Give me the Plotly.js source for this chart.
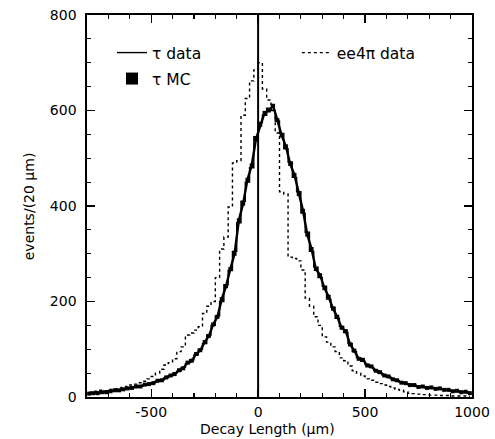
<!DOCTYPE html>
<html>
<head>
<meta charset="utf-8">
<script src="https://cdn.plot.ly/plotly-3.0.1.min.js"></script>
<style>html,body{margin:0;padding:0;background:#fff;}#chart{width:495px;height:439px;}</style>
</head>
<body>
<div id="chart"></div>
<script>
// Histogram binning (decay length, micrometres)
const BIN_START = -800;
const BIN_WIDTH = 20;

// tau data (solid histogram), 90 bins from -800 to 1000
const tauData = [
  8, 7, 9, 10, 11, 12, 13, 15, 17, 18,
  20, 21, 23, 25, 27, 30, 33, 36, 40, 44,
  50, 54, 62, 70, 78, 88, 100, 112, 130, 150,
  170, 200, 235, 265, 305, 365, 410, 450, 480, 545,
  575, 590, 605, 600, 578, 552, 520, 492, 460, 430,
  385, 345, 305, 272, 250, 232, 205, 188, 165, 148,
  135, 112, 95, 82, 75, 68, 62, 56, 50, 46,
  42, 38, 34, 31, 28, 26, 24, 22, 21, 20,
  19, 18, 17, 16, 14, 13, 12, 11, 10, 9
];

// tau Monte Carlo (black points)
const tauMC = [
  7, 8, 8, 10, 10, 12, 14, 14, 16, 18,
  19, 22, 22, 26, 27, 29, 34, 35, 41, 45,
  48, 56, 60, 72, 76, 90, 98, 115, 128, 152,
  168, 205, 232, 268, 300, 370, 405, 455, 485, 540,
  570, 595, 600, 610, 580, 548, 525, 488, 465, 425,
  390, 340, 310, 268, 255, 228, 210, 185, 168, 145,
  138, 110, 97, 80, 78, 66, 64, 55, 52, 45,
  43, 37, 35, 30, 29, 25, 25, 21, 22, 19,
  20, 17, 18, 15, 15, 12, 13, 10, 11, 8
];

// ee4pi data (dotted histogram)
const ee4piData = [
  10, 12, 12, 14, 13, 16, 17, 19, 20, 22,
  25, 27, 30, 33, 38, 43, 50, 58, 67, 72,
  80, 95, 105, 130, 134, 140, 147, 175, 190, 200,
  250, 310, 335, 398, 490, 495, 590, 625, 662, 685,
  700, 645, 622, 601, 553, 430, 425, 293, 290, 285,
  266, 207, 190, 168, 150, 126, 115, 105, 95, 82,
  76, 65, 55, 50, 44, 38, 35, 31, 28, 25,
  22, 19, 16, 14, 11, 8, 7, 6, 5, 5,
  4, 4, 3, 3, 3, 2, 2, 2, 2, 1
];

const xTickVals = [-500, 0, 500, 1000];
const xTickText = ['-500', '0', '500', '1000'];
const yTickVals = [0, 200, 400, 600, 800];
const yTickText = ['0', '200', '400', '600', '800'];

const centers = tauData.map((_, i) => BIN_START + BIN_WIDTH * (i + 0.5));

const FONT = 'DejaVu Sans, sans-serif';

const traces = [
  {
    x: centers, y: ee4piData, type: 'scatter', mode: 'lines',
    line: {shape: 'hvh', color: '#000', width: 1.4, dash: 'dot'},
    name: 'ee4π data', legend: 'legend2', hoverinfo: 'skip'
  },
  {
    x: centers, y: tauMC, type: 'scatter', mode: 'lines',
    line: {shape: 'linear', color: '#000', width: 2.4},
    showlegend: false, legend: 'legend3', hoverinfo: 'skip'
  },
  {
    x: centers, y: tauData, type: 'scatter', mode: 'lines',
    line: {shape: 'hvh', color: '#000', width: 1.4},
    name: 'τ data', legend: 'legend', hoverinfo: 'skip'
  },
  {
    x: centers, y: tauMC, type: 'scatter', mode: 'markers',
    marker: {symbol: 'square', size: 4, color: '#000'},
    name: 'τ MC', legend: 'legend3', hoverinfo: 'skip'
  }
];

const axisCommon = {
  showgrid: false, zeroline: false, showline: true, linecolor: '#000', linewidth: 1.6,
  mirror: 'ticks', ticks: 'inside', ticklen: 8, tickwidth: 1.3, tickcolor: '#000',
  tickfont: {family: FONT, size: 14, color: '#000'}
};

const legendFont = {family: FONT, size: 15.5, color: '#000'};

const layout = {
  width: 495, height: 439,
  margin: {l: 87, r: 23, t: 15, b: 42},
  paper_bgcolor: '#fff', plot_bgcolor: '#fff',
  font: {family: FONT, color: '#000'},
  xaxis: Object.assign({}, axisCommon, {
    range: [-800, 1000], tickmode: 'array', tickvals: xTickVals, ticktext: xTickText,
    minor: {dtick: 100, ticks: 'inside', ticklen: 4, tickwidth: 1.2, tickcolor: '#000'},
    ticklabelstandoff: 2
  }),
  yaxis: Object.assign({}, axisCommon, {
    range: [0, 800], tickmode: 'array', tickvals: yTickVals, ticktext: yTickText,
    minor: {dtick: 50, ticks: 'inside', ticklen: 4, tickwidth: 1.2, tickcolor: '#000'},
    ticklabelstandoff: 6
  }),
  annotations: [
    {text: 'Decay Length (μm)', xref: 'paper', yref: 'paper', x: 0.47, y: -0.083,
     xanchor: 'center', yanchor: 'middle', showarrow: false,
     font: {family: FONT, size: 14, color: '#000'}},
    {text: 'events/(20 μm)', xref: 'paper', yref: 'paper', x: -0.15, y: 0.5,
     xanchor: 'center', yanchor: 'middle', textangle: -90, showarrow: false,
     font: {family: FONT, size: 14, color: '#000'}}
  ],
  shapes: [
    {type: 'line', xref: 'x', yref: 'paper', x0: 0, x1: 0, y0: 0, y1: 1,
     line: {color: '#000', width: 2}}
  ],
  legend: {
    x: 0.065, y: 0.945, xanchor: 'left', yanchor: 'top', bgcolor: 'rgba(0,0,0,0)',
    font: legendFont
  },
  legend3: {
    x: 0.065, y: 0.877, xanchor: 'left', yanchor: 'top', bgcolor: 'rgba(0,0,0,0)',
    font: legendFont, itemsizing: 'constant'
  },
  legend2: {
    x: 0.545, y: 0.945, xanchor: 'left', yanchor: 'top', bgcolor: 'rgba(0,0,0,0)',
    font: legendFont
  },
  showlegend: true
};

Plotly.newPlot('chart', traces, layout, {staticPlot: true, displayModeBar: false});
</script>
</body>
</html>
